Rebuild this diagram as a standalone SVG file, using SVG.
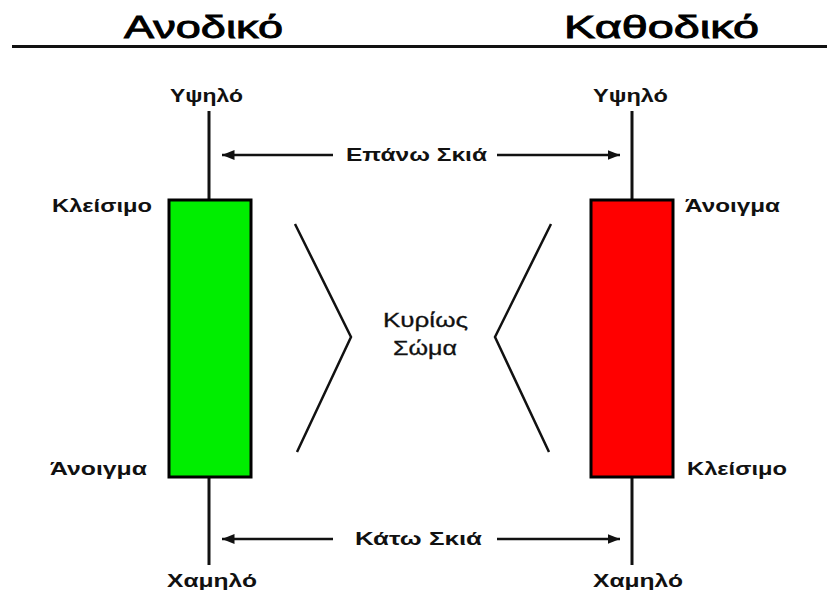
<svg xmlns="http://www.w3.org/2000/svg" width="827" height="590" viewBox="0 0 827 590">
  <style>
    .title { font-family: "Liberation Sans", Arial, sans-serif; font-size: 32px; fill: #000; stroke: #000; stroke-width: 0.9; }
    .lbl { font-family: "Liberation Sans", Arial, sans-serif; font-size: 18px; font-weight: bold; fill: #111; }
    .mid { font-family: "Liberation Sans", Arial, sans-serif; font-size: 20px; fill: #111; stroke: #111; stroke-width: 0.3; }
    .wick { stroke: #111; stroke-width: 3; fill: none; }
    .body { stroke: #000; stroke-width: 3; }
    .conn { stroke: #111; stroke-width: 2.5; fill: none; }
    .chev { stroke: #111; stroke-width: 2.5; fill: none; stroke-linejoin: miter; }
  </style>
  <defs>
    <marker id="arrow" viewBox="0 0 10 8" refX="10" refY="4" markerWidth="5" markerHeight="4" orient="auto-start-reverse" markerUnits="strokeWidth">
      <path d="M0,0 L10,4 L0,8 z" fill="#111"/>
    </marker>
  </defs>
  <rect width="827" height="590" fill="#fff"/>

  <!-- headings -->
  <g id="headings">
    <text class="title" x="124" y="38" textLength="159" lengthAdjust="spacingAndGlyphs">Ανοδικό</text>
    <text class="title" x="564" y="38" textLength="195" lengthAdjust="spacingAndGlyphs">Καθοδικό</text>
    <line x1="12" y1="46.5" x2="827" y2="46.5" stroke="#111" stroke-width="3"/>
  </g>

  <!-- bullish candle -->
  <g id="bull-candle">
    <line class="wick" x1="209" y1="111" x2="209" y2="200"/>
    <line class="wick" x1="209" y1="477" x2="209" y2="565"/>
    <rect class="body" x="169" y="200" width="82" height="277" fill="#00ee00"/>
    <text class="lbl" x="170" y="102" textLength="73" lengthAdjust="spacingAndGlyphs">Υψηλό</text>
    <text class="lbl" x="52" y="212" textLength="100" lengthAdjust="spacingAndGlyphs">Κλείσιμο</text>
    <text class="lbl" x="50" y="475" textLength="97" lengthAdjust="spacingAndGlyphs">Άνοιγμα</text>
    <text class="lbl" x="167" y="587" textLength="90" lengthAdjust="spacingAndGlyphs">Χαμηλό</text>
  </g>

  <!-- bearish candle -->
  <g id="bear-candle">
    <line class="wick" x1="632" y1="111" x2="632" y2="200"/>
    <line class="wick" x1="632" y1="477" x2="632" y2="565"/>
    <rect class="body" x="591" y="200" width="82" height="277" fill="#ff0000"/>
    <text class="lbl" x="593" y="102" textLength="75" lengthAdjust="spacingAndGlyphs">Υψηλό</text>
    <text class="lbl" x="685" y="212" textLength="95" lengthAdjust="spacingAndGlyphs">Άνοιγμα</text>
    <text class="lbl" x="687" y="475" textLength="100" lengthAdjust="spacingAndGlyphs">Κλείσιμο</text>
    <text class="lbl" x="593" y="587" textLength="90" lengthAdjust="spacingAndGlyphs">Χαμηλό</text>
  </g>

  <!-- shadow and body labels -->
  <g id="upper-shadow">
    <text class="lbl" x="346" y="161" textLength="141" lengthAdjust="spacingAndGlyphs">Επάνω Σκιά</text>
  </g>
  <g id="lower-shadow">
    <text class="lbl" x="355" y="545" textLength="127" lengthAdjust="spacingAndGlyphs">Κάτω Σκιά</text>
  </g>
  <g id="real-body">
    <text class="mid" x="383" y="327" textLength="85" lengthAdjust="spacingAndGlyphs">Κυρίως</text>
    <text class="mid" x="393" y="355" textLength="64" lengthAdjust="spacingAndGlyphs">Σώμα</text>
  </g>

  <!-- connectors -->
  <g id="connectors">
    <line class="conn" x1="333" y1="155" x2="222" y2="155" marker-end="url(#arrow)"/>
    <line class="conn" x1="497" y1="155" x2="620" y2="155" marker-end="url(#arrow)"/>
    <line class="conn" x1="333" y1="539" x2="222" y2="539" marker-end="url(#arrow)"/>
    <line class="conn" x1="497" y1="539" x2="620" y2="539" marker-end="url(#arrow)"/>
    <polyline class="chev" points="295,224 351,337 297,452"/>
    <polyline class="chev" points="551,224 495,337 549,452"/>
  </g>
</svg>
